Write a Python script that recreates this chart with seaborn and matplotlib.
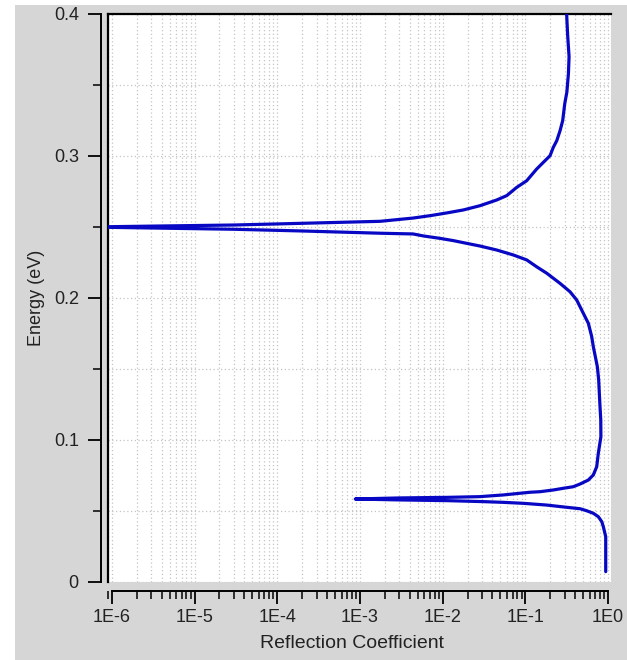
import matplotlib
matplotlib.use("Agg")
import matplotlib.pyplot as plt
import matplotlib.ticker as mticker
from matplotlib.patches import Rectangle
import pandas as pd
import seaborn as sns

# Reflection coefficient of the structure versus carrier energy
energy_ev = [
    0.0073, 0.0200, 0.0319, 0.0390, 0.0425, 0.0460, 0.0484, 0.0502, 0.0516,
    0.0526, 0.0542, 0.0554, 0.0561, 0.0566, 0.0573, 0.0578, 0.05845, 0.0592,
    0.0596, 0.0601, 0.0613, 0.0632, 0.0636, 0.0648, 0.0660, 0.0671, 0.0690,
    0.0718, 0.0754, 0.0812, 0.0906, 0.1023, 0.1141, 0.1235, 0.1329, 0.1423,
    0.1516, 0.1563, 0.1657, 0.1728, 0.1822, 0.1892, 0.1986, 0.2044, 0.2103,
    0.2174, 0.2220, 0.2268, 0.2303, 0.2338, 0.2366, 0.2385, 0.2404, 0.2420,
    0.2437, 0.2451, 0.2456, 0.2472, 0.2484, 0.2500, 0.2514, 0.2526, 0.2540,
    0.2563, 0.2580, 0.2599, 0.2620, 0.2650, 0.2690, 0.2721, 0.2779, 0.2826,
    0.2908, 0.2955, 0.3002, 0.3061, 0.3108, 0.3178, 0.3249, 0.3370, 0.3450,
    0.3580, 0.3700, 0.3850, 0.4000,
]
reflection = [
    0.938, 0.938, 0.938, 0.877, 0.840, 0.763, 0.664, 0.550, 0.459,
    0.317, 0.180, 0.095, 0.054, 0.031, 0.0112, 0.003, 0.00088, 0.003,
    0.0112, 0.028, 0.054, 0.114, 0.151, 0.218, 0.288, 0.380, 0.459,
    0.578, 0.664, 0.730, 0.763, 0.820, 0.817, 0.800, 0.785, 0.771,
    0.743, 0.716, 0.664, 0.635, 0.578, 0.503, 0.418, 0.347, 0.263,
    0.182, 0.137, 0.104, 0.0716, 0.045, 0.0283, 0.0195, 0.0135, 0.0093,
    0.00585, 0.0044, 0.0018, 0.0002, 0.00003, 0.0000005, 0.00003, 0.0002, 0.00175,
    0.0044, 0.0071, 0.0112, 0.0178, 0.0283, 0.045, 0.0596, 0.0787, 0.104,
    0.137, 0.165, 0.199, 0.218, 0.240, 0.263, 0.283, 0.300, 0.318,
    0.332, 0.338, 0.325, 0.316,
]

x_ticks = [1e-6, 1e-5, 1e-4, 1e-3, 1e-2, 1e-1, 1e0]
x_tick_labels = ["1E-6", "1E-5", "1E-4", "1E-3", "1E-2", "1E-1", "1E0"]
y_ticks = [0.0, 0.1, 0.2, 0.3, 0.4]
y_tick_labels = ["0", "0.1", "0.2", "0.3", "0.4"]

df = pd.DataFrame({"energy": energy_ev, "reflection": reflection})

sns.set_theme(style="white")
plt.rcParams["font.family"] = ["Liberation Sans", "DejaVu Sans"]

W, H = 627, 660
fig = plt.figure(figsize=(W / 100, H / 100), dpi=100)
fig.patch.set_facecolor("white")
fig.add_artist(Rectangle((15 / W, 0), 1 - 15 / W, (H - 5) / H,
                         transform=fig.transFigure, facecolor="#d6d6d6",
                         edgecolor="none", zorder=-10))

pos = [108 / W, 78 / H, 503 / W, 568 / H]
xlim = (10 ** -6.046, 10 ** 0.036)
ylim = (0.0, 0.4)

# white plotting panel: grid, frame and curve
ax = fig.add_axes(pos)
ax.set_facecolor("white")
ax.set_xscale("log")
ax.set_xlim(*xlim)
ax.set_ylim(*ylim)
ax.xaxis.set_major_locator(mticker.FixedLocator(x_ticks))
ax.xaxis.set_minor_locator(mticker.LogLocator(base=10, subs=range(2, 10), numticks=30))
ax.yaxis.set_major_locator(mticker.MultipleLocator(0.1))
ax.yaxis.set_minor_locator(mticker.MultipleLocator(0.05))
ax.grid(which="both", color="#c4c4c4", linestyle=(0, (1, 2)), linewidth=0.9)
ax.tick_params(which="both", length=0, labelbottom=False, labelleft=False)
for side in ("bottom", "right"):
    ax.spines[side].set_visible(False)
for side in ("top", "left"):
    ax.spines[side].set_color("black")
    ax.spines[side].set_linewidth(1.6)

sns.lineplot(data=df, x="reflection", y="energy", sort=False, estimator=None,
             color="#0808c4", linewidth=2.3, ax=ax, zorder=5)
ax.set_xlabel("")
ax.set_ylabel("")

# detached axes carrying the ticks and labels
ax2 = fig.add_axes(pos)
ax2.patch.set_visible(False)
ax2.set_xscale("log")
ax2.set_xlim(*xlim)
ax2.set_ylim(*ylim)
ax2.grid(False)
for side in ("top", "right"):
    ax2.spines[side].set_visible(False)
ax2.spines["left"].set_position(("outward", 5))
ax2.spines["bottom"].set_position(("outward", 6.5))
ax2.spines["left"].set_bounds(*ylim)
ax2.spines["bottom"].set_bounds(x_ticks[0], x_ticks[-1])
for side in ("left", "bottom"):
    ax2.spines[side].set_color("black")
    ax2.spines[side].set_linewidth(1.4)
ax2.set_xticks(x_ticks, labels=x_tick_labels)
ax2.set_yticks(y_ticks, labels=y_tick_labels)
ax2.xaxis.set_minor_locator(mticker.LogLocator(base=10, subs=range(2, 10), numticks=30))
ax2.yaxis.set_minor_locator(mticker.MultipleLocator(0.05))
ax2.xaxis.set_minor_formatter(mticker.NullFormatter())
ax2.tick_params(which="major", direction="out", length=9.5, width=1.3,
                color="black", labelsize=13, labelcolor="#222222",
                bottom=True, left=True)
ax2.tick_params(axis="x", which="major", pad=3.5)
ax2.tick_params(axis="y", which="major", pad=6.5)
ax2.tick_params(which="minor", direction="out", length=6, width=1.1,
                color="black", bottom=True, left=True)
ax2.set_xlabel("Reflection Coefficient", fontsize=14, color="#222222")
ax2.set_ylabel("Energy (eV)", fontsize=13, color="#222222")
ax2.xaxis.set_label_coords(0.486, -0.093)
ax2.yaxis.set_label_coords(-0.125, 0.5)

fig.savefig("out.png", dpi=100)
